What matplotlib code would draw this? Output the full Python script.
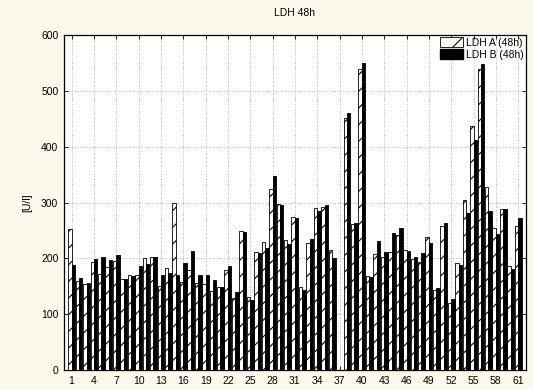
import numpy as np
import matplotlib
matplotlib.use("Agg")
import matplotlib.pyplot as plt
from matplotlib.patches import Patch

plt.rcParams['font.family'] = ['Liberation Sans', 'DejaVu Sans']
plt.rcParams['hatch.linewidth'] = 0.8

categories = list(range(1, 62))
ldh_a = [252, 159, 155, 193, 172, 185, 195, 164, 171, 170,
         200, 203, 150, 182, 299, 157, 179, 156, 155, 141,
         149, 180, 130, 249, 131, 211, 230, 324, 297, 233,
         275, 149, 227, 291, 293, 215, np.nan, 451, 261, 540,
         168, 208, 202, 211, 242, 215, 199, 194, 238, 144,
         258, 121, 191, 304, 437, 540, 328, 254, 288, 186, 258]
ldh_b = [188, 165, 156, 199, 203, 198, 207, 164, 168, 186,
         190, 203, 170, 174, 170, 191, 214, 170, 170, 161,
         149, 186, 140, 247, 125, 209, 219, 348, 296, 226,
         272, 143, 234, 285, 296, 200, np.nan, 460, 263, 550,
         166, 231, 211, 246, 254, 214, 202, 209, 228, 147,
         263, 127, 189, 282, 412, 549, 285, 244, 288, 181, 272]
xtick_labels = list(range(1, 62, 3))

bg = '#fdf8ec'
fig = plt.figure(figsize=(5.33, 3.90), dpi=100, facecolor=bg)
ax = fig.add_axes([0.120, 0.051, 0.867, 0.859])
ax.set_facecolor('white')

x = np.array(categories, dtype=float)
w = 0.46
ax.bar(x - w / 2, ldh_a, width=w, color='white', edgecolor='black',
       hatch='//', linewidth=0.6, zorder=3, label='LDH A (48h)')
ax.bar(x + w / 2, ldh_b, width=w, color='black', edgecolor='black',
       linewidth=0.6, zorder=3, label='LDH B (48h)')

ax.set_xlim(-0.03, 62.06)
ax.set_ylim(0, 600)
ax.set_xticks(xtick_labels)
ax.set_xticklabels([str(v) for v in xtick_labels])
ax.set_yticks(range(0, 601, 100))
ax.tick_params(direction='in', length=3, width=0.6, labelsize=7.5,
               top=True, right=True, pad=4)
ax.grid(True, color='#b8b8b8', linestyle=':', linewidth=0.7, zorder=0)
for s in ax.spines.values():
    s.set_linewidth(0.9)

ax.set_ylabel('[U/l]', fontsize=7.5, labelpad=6)
fig.text(0.553, 0.967, 'LDH 48h', ha='center', va='center', fontsize=7.5)

handles = [Patch(facecolor='white', edgecolor='black', hatch='/', linewidth=0.6),
           Patch(facecolor='black', edgecolor='black')]
ax.legend(handles, ['LDH A (48h)', 'LDH B (48h)'], loc='upper right',
          frameon=False, fontsize=7.5, handlelength=2.2, handleheight=1.1,
          handletextpad=0.3, borderaxespad=0.1, labelspacing=0.15,
          borderpad=0.1)

fig.savefig('out.png', dpi=100, facecolor=bg)
